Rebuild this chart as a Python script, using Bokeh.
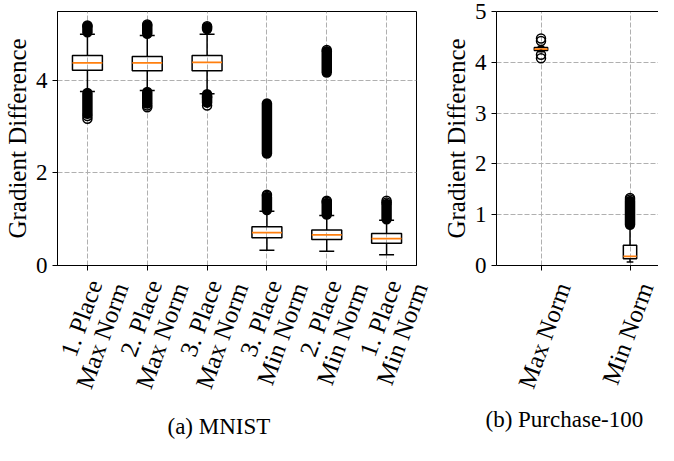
import math
from bokeh.plotting import figure
from bokeh.models import Range1d, FixedTicker, LinearAxis, Title, ColumnDataSource
from bokeh.layouts import row
from bokeh.embed import file_html
from bokeh.resources import INLINE

# ---------------- data ----------------
mnist_labels = ["1. Place \nMax Norm", "2. Place \nMax Norm", "3. Place \nMax Norm",
                "3. Place \nMin Norm", "2. Place \nMin Norm", "1. Place \nMin Norm"]
mnist_q1 = [4.22, 4.21, 4.21, 0.60, 0.56, 0.48]
mnist_med = [4.38, 4.38, 4.39, 0.71, 0.66, 0.58]
mnist_q3 = [4.54, 4.52, 4.54, 0.84, 0.77, 0.69]
mnist_lo = [3.76, 3.78, 3.71, 0.33, 0.31, 0.23]
mnist_hi = [5.00, 4.97, 5.00, 1.17, 1.08, 0.98]
# dense runs of outliers (from, to) for each box
mnist_dense = [
    [(5.04, 5.17), (3.28, 3.73)],
    [(5.01, 5.19), (3.50, 3.75)],
    [(5.11, 5.15), (3.52, 3.70)],
    [(1.20, 1.48), (2.42, 3.50)],
    [(1.10, 1.35), (4.17, 4.63)],
    [(1.00, 1.33)],
]
# single outliers that stand out of the dense runs
mnist_single = [
    [5.19, 3.23, 3.17],
    [5.21, 3.46, 3.42],
    [5.17, 3.64, 3.46],
    [1.51, 1.53],
    [1.38, 1.40, 4.66],
    [1.36, 1.40],
]
mnist_yticks = [0, 2, 4]

purchase_labels = ["Max Norm", "Min Norm"]
purchase_q1 = [4.23, 0.135]
purchase_med = [4.26, 0.18]
purchase_q3 = [4.29, 0.40]
purchase_lo = [4.21, 0.07]
purchase_hi = [4.31, 0.78]
purchase_dense = [
    [],
    [(0.80, 1.27)],
]
purchase_single = [
    [4.47, 4.42, 4.15, 4.08],
    [1.30, 1.33],
]
purchase_yticks = [0, 1, 2, 3, 4, 5]

SERIF = "Liberation Serif"
GRID = "#b0b0b0"


def style(p, ticks_x, labels, label_shift, label_standoff, yticks, ylabel):
    xa = p.xaxis[0]
    xa.ticker = FixedTicker(ticks=ticks_x)
    xa.major_label_text_color = None
    xa.major_label_text_font_size = "1px"
    xa.major_label_standoff = 0
    # tick labels on their own axis, shifted so that each label is centred on its tick
    lab_ticks = [x + label_shift for x in ticks_x]
    la = LinearAxis(ticker=FixedTicker(ticks=lab_ticks),
                    major_label_overrides={float(t): s for t, s in zip(lab_ticks, labels)},
                    major_label_orientation=math.radians(70),
                    major_label_text_font=SERIF, major_label_text_font_size="25px",
                    major_label_text_line_height=0.95,
                    major_label_text_color="black", major_label_standoff=label_standoff,
                    axis_line_color=None, major_tick_line_color=None,
                    minor_tick_line_color=None, major_tick_out=0, minor_tick_out=0)
    p.add_layout(la, "below")
    p.yaxis.ticker = FixedTicker(ticks=yticks)
    p.yaxis.axis_label = ylabel
    for ax in (xa, p.yaxis[0]):
        ax.major_label_text_font = SERIF
        ax.major_tick_out = 5
        ax.major_tick_in = 0
        ax.minor_tick_out = 0
        ax.minor_tick_in = 0
        ax.axis_line_color = "black"
        ax.major_tick_line_color = "black"
    p.yaxis.major_label_text_color = "black"
    p.yaxis.major_label_text_font_size = "23px"
    p.yaxis.major_label_standoff = 5
    p.yaxis.axis_label_text_font = SERIF
    p.yaxis.axis_label_text_font_size = "25px"
    p.yaxis.axis_label_text_font_style = "normal"
    p.yaxis.axis_label_text_color = "black"
    p.yaxis.axis_label_standoff = 2
    for g in (p.xgrid[0], p.ygrid[0]):
        g.grid_line_color = GRID
        g.grid_line_dash = "5 2"
        g.grid_line_width = 1
    p.xgrid.ticker = FixedTicker(ticks=ticks_x)
    p.ygrid.ticker = FixedTicker(ticks=yticks)
    p.background_fill_color = "white"
    p.border_fill_color = "white"


def boxes(p, xs, q1, med, q3, lo, hi, dense, single, w):
    src = ColumnDataSource(dict(
        x=xs, q1=q1, med=med, q3=q3, lo=lo, hi=hi,
        xl=[x - w / 2 for x in xs], xr=[x + w / 2 for x in xs],
        cl=[x - w / 4 for x in xs], cr=[x + w / 4 for x in xs]))
    p.segment(x0="x", x1="x", y0="q3", y1="hi", source=src, line_color="black", line_width=1.5)
    p.segment(x0="x", x1="x", y0="q1", y1="lo", source=src, line_color="black", line_width=1.5)
    p.segment(x0="cl", x1="cr", y0="hi", y1="hi", source=src, line_color="black", line_width=1.5)
    p.segment(x0="cl", x1="cr", y0="lo", y1="lo", source=src, line_color="black", line_width=1.5)
    p.vbar(x="x", width=w, bottom="q1", top="q3", source=src, fill_color=None,
           line_color="black", line_width=1.5)
    p.segment(x0="xl", x1="xr", y0="med", y1="med", source=src, line_color="#ff7f0e", line_width=1.8)
    dx, d0, d1 = [], [], []
    for x, runs in zip(xs, dense):
        for a, b in runs:
            dx.append(x)
            d0.append(a)
            d1.append(b)
    p.segment(x0=dx, x1=dx, y0=d0, y1=d1, line_color="black", line_width=10.5, line_cap="round")
    fx, fy = [], []
    for x, vals in zip(xs, single):
        fx += [x] * len(vals)
        fy += vals
    p.scatter(fx, fy, marker="circle", size=9, fill_color=None, line_color="black", line_width=1.5)


H = 445
# ---------------- left: MNIST ----------------
mx = list(range(1, len(mnist_labels) + 1))
p1 = figure(width=437, height=H, x_range=Range1d(0.5, 6.5), y_range=Range1d(0, 5.49),
            output_backend="svg", toolbar_location=None,
            min_border_left=53, min_border_right=21, min_border_top=0, min_border_bottom=180)
style(p1, mx, mnist_labels, 0.36, 9, mnist_yticks, "Gradient Difference")
p1.outline_line_color = "black"
p1.outline_line_width = 1
boxes(p1, mx, mnist_q1, mnist_med, mnist_q3, mnist_lo, mnist_hi, mnist_dense, mnist_single, 0.5)
p1.add_layout(Title(text="(a) MNIST", align="left", offset=110, text_font=SERIF,
                    text_font_size="23px", text_font_style="normal", text_color="black",
                    standoff=14), "below")

# ---------------- right: Purchase-100 ----------------
px = list(range(1, len(purchase_labels) + 1))
p2 = figure(width=221, height=H, x_range=Range1d(0.5, 2.32), y_range=Range1d(0, 5),
            output_backend="svg", toolbar_location=None,
            min_border_left=59, min_border_right=0, min_border_top=11, min_border_bottom=174)
style(p2, px, purchase_labels, 0.25, 13, purchase_yticks, "Gradient Difference")
p2.outline_line_color = None
top = LinearAxis(ticker=FixedTicker(ticks=[]), axis_line_color="black",
                 major_tick_out=0, major_tick_in=0, minor_tick_out=0, minor_tick_in=0,
                 major_label_text_font_size="1px", major_label_text_color=None,
                 major_label_standoff=0)
p2.add_layout(top, "above")
boxes(p2, px, purchase_q1, purchase_med, purchase_q3, purchase_lo, purchase_hi,
      purchase_dense, purchase_single, 0.15)
p2.add_layout(Title(text="(b) Purchase-100", align="left", offset=-11, text_font=SERIF,
                    text_font_size="23px", text_font_style="normal", text_color="black",
                    standoff=10), "below")

layout = row(p1, p2)
open("out.html", "w").write(file_html(layout, INLINE))
